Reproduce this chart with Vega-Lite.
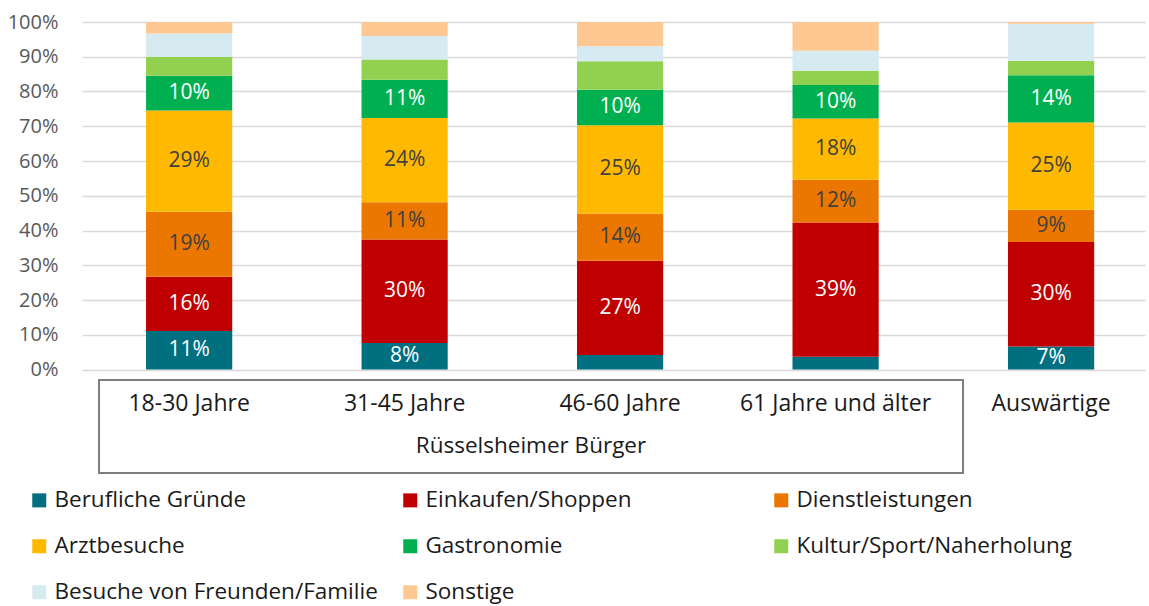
{
  "$schema": "https://vega.github.io/schema/vega-lite/v6.json",
  "width": 1063,
  "height": 347.5,
  "autosize": "none",
  "padding": {"left": 82, "top": 22, "right": 4, "bottom": 236.5},
  "config": {"font": "Open Sans", "view": {"stroke": null}},
  "layer": [
    {
      "data": {
        "values": [
          {"Gruppe": "18-30 Jahre", "Kategorie": "Berufliche Gründe", "Anteil": 0.111},
          {"Gruppe": "18-30 Jahre", "Kategorie": "Einkaufen/Shoppen", "Anteil": 0.156},
          {"Gruppe": "18-30 Jahre", "Kategorie": "Dienstleistungen", "Anteil": 0.187},
          {"Gruppe": "18-30 Jahre", "Kategorie": "Arztbesuche", "Anteil": 0.291},
          {"Gruppe": "18-30 Jahre", "Kategorie": "Gastronomie", "Anteil": 0.100},
          {"Gruppe": "18-30 Jahre", "Kategorie": "Kultur/Sport/Naherholung", "Anteil": 0.055},
          {"Gruppe": "18-30 Jahre", "Kategorie": "Besuche von Freunden/Familie", "Anteil": 0.067},
          {"Gruppe": "18-30 Jahre", "Kategorie": "Sonstige", "Anteil": 0.033},
          {"Gruppe": "31-45 Jahre", "Kategorie": "Berufliche Gründe", "Anteil": 0.076},
          {"Gruppe": "31-45 Jahre", "Kategorie": "Einkaufen/Shoppen", "Anteil": 0.298},
          {"Gruppe": "31-45 Jahre", "Kategorie": "Dienstleistungen", "Anteil": 0.107},
          {"Gruppe": "31-45 Jahre", "Kategorie": "Arztbesuche", "Anteil": 0.243},
          {"Gruppe": "31-45 Jahre", "Kategorie": "Gastronomie", "Anteil": 0.110},
          {"Gruppe": "31-45 Jahre", "Kategorie": "Kultur/Sport/Naherholung", "Anteil": 0.058},
          {"Gruppe": "31-45 Jahre", "Kategorie": "Besuche von Freunden/Familie", "Anteil": 0.068},
          {"Gruppe": "31-45 Jahre", "Kategorie": "Sonstige", "Anteil": 0.040},
          {"Gruppe": "46-60 Jahre", "Kategorie": "Berufliche Gründe", "Anteil": 0.042},
          {"Gruppe": "46-60 Jahre", "Kategorie": "Einkaufen/Shoppen", "Anteil": 0.271},
          {"Gruppe": "46-60 Jahre", "Kategorie": "Dienstleistungen", "Anteil": 0.136},
          {"Gruppe": "46-60 Jahre", "Kategorie": "Arztbesuche", "Anteil": 0.254},
          {"Gruppe": "46-60 Jahre", "Kategorie": "Gastronomie", "Anteil": 0.102},
          {"Gruppe": "46-60 Jahre", "Kategorie": "Kultur/Sport/Naherholung", "Anteil": 0.082},
          {"Gruppe": "46-60 Jahre", "Kategorie": "Besuche von Freunden/Familie", "Anteil": 0.043},
          {"Gruppe": "46-60 Jahre", "Kategorie": "Sonstige", "Anteil": 0.070},
          {"Gruppe": "61 Jahre und älter", "Kategorie": "Berufliche Gründe", "Anteil": 0.037},
          {"Gruppe": "61 Jahre und älter", "Kategorie": "Einkaufen/Shoppen", "Anteil": 0.386},
          {"Gruppe": "61 Jahre und älter", "Kategorie": "Dienstleistungen", "Anteil": 0.123},
          {"Gruppe": "61 Jahre und älter", "Kategorie": "Arztbesuche", "Anteil": 0.176},
          {"Gruppe": "61 Jahre und älter", "Kategorie": "Gastronomie", "Anteil": 0.097},
          {"Gruppe": "61 Jahre und älter", "Kategorie": "Kultur/Sport/Naherholung", "Anteil": 0.041},
          {"Gruppe": "61 Jahre und älter", "Kategorie": "Besuche von Freunden/Familie", "Anteil": 0.057},
          {"Gruppe": "61 Jahre und älter", "Kategorie": "Sonstige", "Anteil": 0.083},
          {"Gruppe": "Auswärtige", "Kategorie": "Berufliche Gründe", "Anteil": 0.066},
          {"Gruppe": "Auswärtige", "Kategorie": "Einkaufen/Shoppen", "Anteil": 0.301},
          {"Gruppe": "Auswärtige", "Kategorie": "Dienstleistungen", "Anteil": 0.093},
          {"Gruppe": "Auswärtige", "Kategorie": "Arztbesuche", "Anteil": 0.251},
          {"Gruppe": "Auswärtige", "Kategorie": "Gastronomie", "Anteil": 0.136},
          {"Gruppe": "Auswärtige", "Kategorie": "Kultur/Sport/Naherholung", "Anteil": 0.041},
          {"Gruppe": "Auswärtige", "Kategorie": "Besuche von Freunden/Familie", "Anteil": 0.107},
          {"Gruppe": "Auswärtige", "Kategorie": "Sonstige", "Anteil": 0.005}
        ]
      },
      "transform": [
        {"calculate": "indexof(['Berufliche Gründe','Einkaufen/Shoppen','Dienstleistungen','Arztbesuche','Gastronomie','Kultur/Sport/Naherholung','Besuche von Freunden/Familie','Sonstige'], datum.Kategorie)", "as": "Rang"}
      ],
      "encoding": {
        "x": {
          "field": "Gruppe",
          "type": "nominal",
          "sort": null,
          "scale": {"paddingInner": 0.6, "paddingOuter": 0.2665, "align": 0.5575},
          "axis": {
            "title": null,
            "labelAngle": 0,
            "labelFontSize": 23,
            "labelColor": "#1a1a1a",
            "labelPadding": 23,
            "labelLimit": 0,
            "labelOverlap": false,
            "ticks": false,
            "domain": false,
            "grid": false
          }
        },
        "y": {
          "field": "Anteil",
          "type": "quantitative",
          "stack": "zero",
          "scale": {"domain": [0, 1]},
          "axis": {
            "title": null,
            "values": [0, 0.1, 0.2, 0.3, 0.4, 0.5, 0.6, 0.7, 0.8, 0.9, 1],
            "format": ".0%",
            "labelOverlap": false,
            "labelFontSize": 20,
            "labelColor": "#595959",
            "labelPadding": 24,
            "ticks": false,
            "domain": false,
            "grid": true,
            "gridColor": "#D9D9D9",
            "gridWidth": 1.5
          }
        },
        "order": {"field": "Rang", "type": "quantitative", "sort": "ascending"}
      },
      "layer": [
        {
          "mark": {"type": "bar"},
          "encoding": {
            "color": {
              "field": "Kategorie",
              "type": "nominal",
              "scale": {
                "domain": ["Berufliche Gründe", "Einkaufen/Shoppen", "Dienstleistungen", "Arztbesuche", "Gastronomie", "Kultur/Sport/Naherholung", "Besuche von Freunden/Familie", "Sonstige"],
                "range": ["#006F7F", "#C00000", "#EC7700", "#FFB900", "#00B050", "#92D050", "#D6EBF1", "#FEC893"]
              },
              "legend": {
                "orient": "none",
                "legendX": -54,
                "legendY": 467,
                "direction": "horizontal",
                "columns": 3,
                "gridAlign": "all",
                "title": null,
                "padding": 0,
                "symbolType": "square",
                "symbolSize": 196,
                "symbolStrokeWidth": 0,
                "symbolOpacity": 1,
                "labelFontSize": 22.5,
                "labelColor": "#1a1a1a",
                "labelOffset": 4,
                "labelLimit": 0,
                "columnPadding": 21,
                "rowPadding": 23
              }
            }
          }
        },
        {
          "mark": {"type": "text", "fontSize": 21, "baseline": "middle", "align": "center"},
          "encoding": {
            "y": {
              "field": "Anteil",
              "type": "quantitative",
              "stack": "zero",
              "bandPosition": 0.5,
              "scale": {"domain": [0, 1]},
              "axis": {
                "title": null,
                "values": [0, 0.1, 0.2, 0.3, 0.4, 0.5, 0.6, 0.7, 0.8, 0.9, 1],
                "format": ".0%",
                "labelOverlap": false,
                "labelFontSize": 20,
                "labelColor": "#595959",
                "labelPadding": 24,
                "ticks": false,
                "domain": false,
                "grid": true,
                "gridColor": "#D9D9D9",
                "gridWidth": 1.5
              }
            },
            "text": {
              "condition": {
                "test": "datum.Anteil >= 0.05 && datum.Rang <= 4",
                "field": "Anteil",
                "type": "quantitative",
                "format": ".0%"
              },
              "value": ""
            },
            "color": {
              "condition": {"test": "datum.Rang == 2 || datum.Rang == 3", "value": "#404040"},
              "value": "#FFFFFF"
            }
          }
        }
      ]
    },
    {
      "data": {"values": [{"Gruppe": "Rüsselsheimer Bürger"}]},
      "layer": [
        {
          "mark": {"type": "rect", "fill": "#ffffff", "fillOpacity": 0, "stroke": "#7F7F7F", "strokeWidth": 2},
          "encoding": {
            "x": {"datum": 0.08, "type": "quantitative", "scale": {"domain": [0, 5]}, "axis": null},
            "x2": {"datum": 4.144},
            "y": {"datum": -0.03, "type": "quantitative", "scale": {"domain": [0, 1]}, "axis": null},
            "y2": {"datum": -0.298}
          }
        },
        {
          "mark": {"type": "text", "fontSize": 22.5, "color": "#1a1a1a", "baseline": "middle", "align": "center"},
          "encoding": {
            "x": {"datum": 2.112, "type": "quantitative", "scale": {"domain": [0, 5]}, "axis": null},
            "y": {"datum": -0.219, "type": "quantitative", "scale": {"domain": [0, 1]}, "axis": null},
            "text": {"field": "Gruppe"}
          }
        }
      ]
    }
  ],
  "resolve": {"scale": {"x": "independent", "y": "independent"}}
}
